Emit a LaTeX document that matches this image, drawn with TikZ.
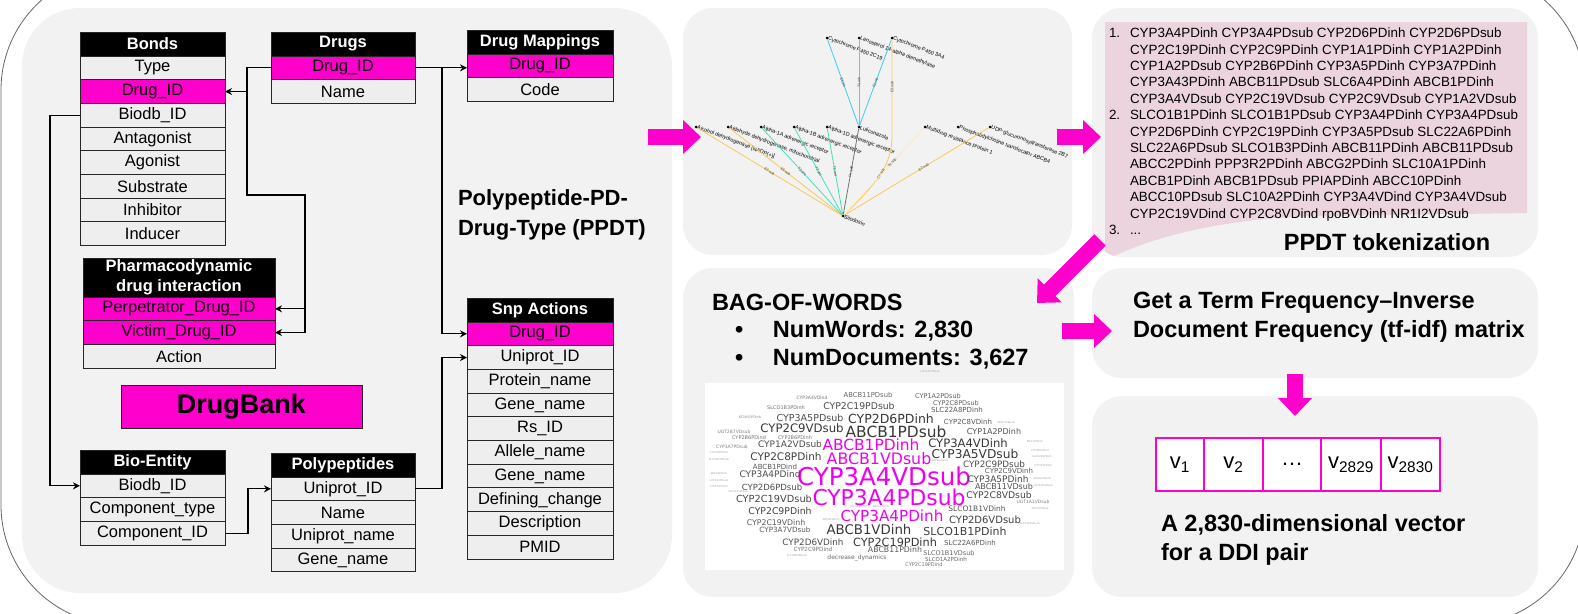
\documentclass[tikz,border=0pt]{standalone}
\usepackage{fontspec}
\setmainfont{Liberation Sans}
\newfontfamily\cloudfont{DejaVu Sans}
\usetikzlibrary{positioning,arrows.meta}

\definecolor{pinkk}{RGB}{255,0,204}
\definecolor{cloudpink}{RGB}{238,0,238}
\definecolor{panelgray}{RGB}{242,242,242}
\definecolor{rowgray}{RGB}{238,238,238}
\definecolor{tokpink}{RGB}{236,212,222}
\definecolor{edgecyan}{RGB}{60,205,235}
\definecolor{edgeteal}{RGB}{70,222,190}
\definecolor{edgeorange}{RGB}{250,200,95}

\newcommand\fldfont{\fontsize{16.5}{19}\selectfont}
\newcommand\hdrfont{\bfseries\fontsize{16.5}{20}\selectfont}
\newcommand\headfont{\bfseries\fontsize{23.5}{29}\selectfont}
\newcommand\tokfont{\fontsize{13.4}{16.4}\selectfont}
\newcommand\glabfont{\fontsize{5.4}{6}\selectfont}
\newcommand\elabfont{\fontsize{3.6}{4}\selectfont}

% rows of a table, hung under the header node #10
\newcommand\dbfields[3]{%
  \foreach \txt/\fc [count=\i] in {#3}{
    \pgfmathtruncatemacro\j{\i-1}
    \node[fld, fill=\fc, minimum width=#2, below=0pt of #1\j] (#1\i) {\txt};
  }}

\begin{document}
\begin{tikzpicture}[x=1pt, y=-1pt,
  fld/.style={draw=black!85, line width=0.9pt, fill=rowgray, inner sep=0pt, outer sep=0pt, minimum height=23.7pt, font=\fldfont},
  hdr/.style={fld, fill=black, text=white, font=\hdrfont, minimum height=24pt},
  link/.style={line width=1.1pt, -{Stealth[length=7pt,width=7pt]}},
  panel/.style={fill=panelgray, rounded corners=30pt},
  txt/.style={inner sep=0pt, outer sep=0pt},
  bigarrow/.style={pinkk, line width=16pt, -{Triangle[length=18pt,width=33pt]}},
  gdot/.style={circle, fill=black, inner sep=0pt, minimum size=3pt},
  glab/.style={txt, font=\glabfont, anchor=west, rotate=-21, xshift=1.5pt},
  elab/.style={txt, font=\elabfont, sloped, text=black!75},
  gedge/.style={line width=0.8pt},
  wc/.style={txt},
  vcell/.style={draw=pinkk, line width=2pt, fill=white, inner sep=0pt, outer sep=0pt, minimum height=53pt, font=\fontsize{22}{24}\selectfont}]

\useasboundingbox (0,0) rectangle (1578,613);
\clip (0,0) rectangle (1578,613);
\draw[black!60, line width=0.8pt, rounded corners=120pt] (1,-30) rectangle (1585,625);

\fill[panelgray, rounded corners=58pt] (22,8) rectangle (672,593);
\fill[panel] (683,8) rectangle (1072,255);
\fill[panel] (1092,8) rectangle (1538,257);
\fill[panel] (683,268) rectangle (1074,597);
\fill[panel] (1092,268) rectangle (1538,378);
\fill[panel] (1092,396) rectangle (1538,597);

% DrugBank schema
\node[hdr, minimum width=145pt, anchor=north west] (bonds0) at (80,32) {Bonds};
\dbfields{bonds}{145pt}{Type/rowgray, Drug\_ID/pinkk, Biodb\_ID/rowgray, Antagonist/rowgray, Agonist/rowgray, Substrate/rowgray, Inhibitor/rowgray, Inducer/rowgray}
\node[hdr, minimum width=144pt, anchor=north west] (drugs0) at (271,32) {Drugs};
\dbfields{drugs}{144pt}{Drug\_ID/pinkk, Name/rowgray}
\node[hdr, minimum width=146pt, anchor=north west] (maps0) at (467,30) {Drug Mappings};
\dbfields{maps}{146pt}{Drug\_ID/pinkk, Code/rowgray}
\node[hdr, minimum width=192pt, minimum height=39pt, align=center, anchor=north west] (pd0) at (83,258) {Pharmacodynamic\\drug interaction};
\dbfields{pd}{192pt}{Perpetrator\_Drug\_ID/pinkk, Victim\_Drug\_ID/pinkk, Action/rowgray}
\node[hdr, minimum width=145pt, anchor=north west] (bio0) at (80,450) {Bio-Entity};
\dbfields{bio}{145pt}{Biodb\_ID/rowgray, Component\_type/rowgray, Component\_ID/rowgray}
\node[hdr, minimum width=144pt, anchor=north west] (poly0) at (271,453) {Polypeptides};
\dbfields{poly}{144pt}{Uniprot\_ID/rowgray, Name/rowgray, Uniprot\_name/rowgray, Gene\_name/rowgray}
\node[hdr, minimum width=146pt, anchor=north west] (snp0) at (467,298) {Snp Actions};
\dbfields{snp}{146pt}{Drug\_ID/pinkk, Uniprot\_ID/rowgray, Protein\_name/rowgray, Gene\_name/rowgray, Rs\_ID/rowgray, Allele\_name/rowgray, Gene\_name/rowgray, Defining\_change/rowgray, Description/rowgray, PMID/rowgray}

\node[draw=black!85, line width=0.9pt, fill=pinkk, minimum width=241pt, minimum height=43pt, font=\bfseries\fontsize{27}{30}\selectfont] (drugbank) at (241.5,406.5) {DrugBank};
\node[txt, anchor=west, align=left, font=\bfseries\fontsize{22}{30}\selectfont] (ppdt) at (458,215) {Polypeptide-PD-\\Drug-Type (PPDT)};

\coordinate (busA) at (247,0);
\coordinate (busB) at (305,0);
\coordinate (busC) at (442,0);
\coordinate (busD) at (50,0);
\coordinate (busE) at (248,0);
\coordinate (bend) at (247,195);
\draw[link] (drugs1.west) -| (busA |- bonds2) -- (bonds2.east);
\draw[link] (busA |- bonds2) -- (bend) -| (busB |- pd1) -- (pd1.east);
\draw[link] (busB |- pd1) -- (busB |- pd2) -- (pd2.east);
\draw[link] (drugs1.east) -- (drugs1.east -| maps1.west);
\draw[link] (drugs1.east -| busC) |- (snp1.west);
\draw[link] (bonds3.west) -| (busD |- bio1) -- (bio1.west);
\draw[link] (bio3.east) -| (busE |- poly1) -- (poly1.west);
\draw[link] (poly1.east) -| (busC |- snp2) -- (snp2.west);

% drug graph
\foreach \nm/\gx/\gy/\gt in {c2c19/827/38/Cytochrome P450 2C19, lano/859/38/Lanosterol 14-alpha demethylase, c3a4/892/38/Cytochrome P450 3A4, adh/696/127/Alcohol dehydrogenase [NADP(+)], aldh/728/127/{Aldehyde dehydrogenase, mitochondrial}, a1a/761/127/Alpha-1A adrenergic receptor, a1b/794/127/Alpha-1B adrenergic receptor, a1d/827/127/Alpha-1D adrenergic receptor, luli/859/127/Luliconazole, mdr/925/127/Multidrug resistance protein 1, abcb4/958/127/Phosphatidylcholine translocator ABCB4, ugt/990/127/UDP-glucuronosyltransferase 2B7, silo/843/216/Silodosin}{
  \node[gdot] (\nm) at (\gx,\gy) {};
  \node[glab] (\nm-l) at (\nm) {\gt};
}
\draw[gedge, edgecyan] (luli) -- node[elab]{E3.inh} (c2c19);
\draw[gedge, edgeteal] (luli) -- node[elab]{T3.inh} (lano);
\draw[gedge, edgecyan] (luli) -- node[elab]{E2.inh} (c3a4);
\draw[gedge, edgeorange] (silo) -- node[elab]{E2.sub} (adh);
\draw[gedge, edgeorange] (silo) -- node[elab]{E3.sub} (aldh);
\draw[gedge, edgeteal] (silo) -- node[elab]{T2.ant} (a1a);
\draw[gedge, edgeteal] (silo) -- node[elab]{T2.ant} (a1b);
\draw[gedge, edgeteal] (silo) -- node[elab]{T2.ant} (a1d);
\draw[gedge, black!55] (silo) -- node[elab]{P=1.96} (luli);
\draw[gedge, edgeorange] (silo) .. controls (878,182) and (892,165) .. node[elab]{E3.sub} (892,135) -- node[elab]{E3.sub} (c3a4);
\draw[gedge, edgeorange!40] (silo) -- node[elab, pos=0.6]{T9.sub} (mdr);
\draw[gedge, edgeorange] (silo) -- node[elab, pos=0.55]{E2.sub} (ugt);

% tokens
\begin{scope}
\clip[rounded corners=30pt] (1092,8) rectangle (1538,257);
\fill[tokpink] (1105,22) -- (1527,22) -- (1527,213) -- (1320,216) .. controls (1220,218) and (1150,238) .. (1105,260) -- cycle;
\end{scope}
\node[txt, anchor=north west, align=left, font=\tokfont] (tokens) at (1109,28) {%
\makebox[21pt][l]{1.}CYP3A4PDinh CYP3A4PDsub CYP2D6PDinh CYP2D6PDsub\\
\hspace*{21pt}CYP2C19PDinh CYP2C9PDinh CYP1A1PDinh CYP1A2PDinh\\
\hspace*{21pt}CYP1A2PDsub CYP2B6PDinh CYP3A5PDinh CYP3A7PDinh\\
\hspace*{21pt}CYP3A43PDinh ABCB11PDsub SLC6A4PDinh ABCB1PDinh\\
\hspace*{21pt}CYP3A4VDsub CYP2C19VDsub CYP2C9VDsub CYP1A2VDsub\\
\makebox[21pt][l]{2.}SLCO1B1PDinh SLCO1B1PDsub CYP3A4PDinh CYP3A4PDsub\\
\hspace*{21pt}CYP2D6PDinh CYP2C19PDinh CYP3A5PDsub SLC22A6PDinh\\
\hspace*{21pt}SLC22A6PDsub SLCO1B3PDinh ABCB11PDinh ABCB11PDsub\\
\hspace*{21pt}ABCC2PDinh PPP3R2PDinh ABCG2PDinh SLC10A1PDinh\\
\hspace*{21pt}ABCB1PDinh ABCB1PDsub PPIAPDinh ABCC10PDinh\\
\hspace*{21pt}ABCC10PDsub SLC10A2PDinh CYP3A4VDind CYP3A4VDsub\\
\hspace*{21pt}CYP2C19VDind CYP2C8VDind rpoBVDinh NR1I2VDsub\\
\makebox[21pt][l]{3.}...};
\node[txt, font=\headfont] (toktitle) at (1387,242) {PPDT tokenization};

% bag of words
\node[txt, anchor=west, font=\headfont] (bow) at (712,302) {BAG-OF-WORDS};
\node[txt, anchor=west, font=\headfont] (bow1) at (735,331) {\makebox[38pt][l]{\textbullet}NumWords: 2,830};
\node[txt, anchor=west, font=\headfont] (bow2) at (735,359) {\makebox[38pt][l]{\textbullet}NumDocuments: 3,627};
\fill[white] (705,383) rectangle (1064,570);
\foreach \wx/\wy/\ws/\wc/\wt [count=\i] in {
 884/476/24.5/cloudpink/CYP3A4VDsub, 889/497/21.8/cloudpink/CYP3A4PDsub, 871/445/15.4/cloudpink/ABCB1PDinh,
 879/459/15.8/cloudpink/ABCB1VDsub, 892/516/15.2/cloudpink/CYP3A4PDinh,
 896/432/15.4/black!78/ABCB1PDsub, 891/419/12.5/black!78/CYP2D6PDinh, 802/428/11.7/black!78/CYP2C9VDsub,
 810/418/9.5/black!70/CYP3A5PDsub, 859/406/9.3/black!70/CYP2C19PDsub, 868/395/6.8/black!60/ABCB11PDsub,
 812/398/4.5/black!55/CYP3A4VDind, 786/408/5/black!55/SLCO1B3PDinh, 750/417/3.5/black!45/KCNH2PDinh,
 734/432/4.5/black!50/UGT2B7VDsub, 749/438/5/black!55/CYP2B6PDind, 795/438/5/black!55/CYP2B6PDinh,
 790/444/9/black!70/CYP1A2VDsub, 732/447/4.5/black!50/CYP3A7PDsub, 786/457/10.5/black!75/CYP2C8PDinh,
 775/467/7/black!65/ABCB1PDind, 770/474/9/black!70/CYP3A4PDind, 772/487/8.5/black!70/CYP2D6PDsub,
 774/499/9.8/black!72/CYP2C19VDsub, 780/511/9.3/black!75/CYP2C9PDinh, 776/523/7.8/black!65/CYP2C19VDinh,
 785/530/7.2/black!65/CYP3A7VDsub, 813/542/8.8/black!70/CYP2D6VDinh, 813/549/5.7/black!55/CYP2C9PDind,
 857/558/6/black!60/decrease\_dynamics, 869/530/13.3/black!78/ABCB1VDinh, 895/542/11.3/black!78/CYP2C19PDinh,
 895/550/7.8/black!65/ABCB11PDinh, 968/443/11.6/black!78/CYP3A4VDinh, 975/454/12.2/black!78/CYP3A5VDsub,
 994/464/8.8/black!70/CYP2C9PDsub, 1009/471/7/black!65/CYP2C9VDinh, 998/479/9/black!72/CYP3A5PDinh,
 1004/487/8/black!68/ABCB11VDsub, 999/495/9.2/black!72/CYP2C8VDsub, 977/509/7.5/black!68/SLCO1B1VDinh,
 985/520/10/black!75/CYP2D6VDsub, 965/531/11/black!75/SLCO1B1PDinh, 970/543/7/black!65/SLC22A6PDinh,
 949/553/6.5/black!60/SLCO1B1VDsub, 946/559/5.5/black!60/SLCO1A2PDinh, 924/565/5/black!55/CYP2C19PDind,
 938/396/6.5/black!62/CYP1A2PDsub, 956/403/6.5/black!62/CYP2C8PDsub, 957/410/7/black!65/SLC22A8PDinh,
 968/422/7/black!65/CYP2C8VDinh, 994/432/8/black!68/CYP1A2PDinh, 1033/502/4.5/black!50/UGT1A1VDsub,
 1006/423/2.6/black!35/ABCC2VDsub, 1035/442/2.6/black!35/ERG11PDinh, 1040/451/2.6/black!35/CYP2B6VDind,
 1042/457/2.6/black!35/SLCO2B1PDinh, 1043/466/2.6/black!35/CYP3A7PDinh, 1042/479/2.6/black!35/ABCG2VDsub,
 1043/486/2.6/black!35/UGT1A9VDsub, 1040/509/2.6/black!35/ABCC2PDsub, 1030/524/2.6/black!35/SLC22A6VDsub,
 719/474/2.6/black!35/ABCG2PDinh, 719/481/2.6/black!35/UGT1A1PDsub, 719/487/2.6/black!35/CYP1A2PDind,
 719/453/2.6/black!35/CYP2C8PDind, 719/460/2.6/black!35/SLCO1B3PDsub, 738/492/2.6/black!35/SLC22A1PDinh,
 940/461/2.6/black!35/ABCB1VDind, 860/507/2.6/black!35/SLC22A8PDinh, 881/507/2.6/black!35/ABCC1PDinh,
 831/520/2.6/black!35/ABCG2VDinh, 797/556/2.6/black!35/SLCO1B3PDsub, 930/372/2.6/black!35/UGT1A5VDsub}{
  \node[wc, text=\wc, font={\cloudfont\fontsize{\ws}{\ws}\selectfont}] (w\i) at (\wx,\wy) {\wt};
}

% tf-idf and vector
\node[txt, anchor=west, align=left, font=\headfont] (tfidf) at (1133,317) {Get a Term Frequency--Inverse\\Document Frequency (tf-idf) matrix};
\node[vcell, minimum width=48pt, anchor=north west] (v1) at (1156,438) {v\textsubscript{1}};
\node[vcell, minimum width=59pt, right=0pt of v1] (v2) {v\textsubscript{2}};
\node[vcell, minimum width=58pt, right=0pt of v2] (v3) {\dots};
\node[vcell, minimum width=60pt, right=0pt of v3] (v4) {v\textsubscript{2829}};
\node[vcell, minimum width=59pt, right=0pt of v4] (v5) {v\textsubscript{2830}};
\node[txt, anchor=west, align=left, font=\headfont] (vecnote) at (1161,540) {A 2,830-dimensional vector\\for a DDI pair};

% pink arrows
\coordinate (a1s) at (648,137);  \coordinate (a1e) at (701,137);
\coordinate (a2s) at (1057,137); \coordinate (a2e) at (1101,137);
\coordinate (a3s) at (1062,331); \coordinate (a3e) at (1112,331);
\coordinate (a4s) at (1295,374); \coordinate (a4e) at (1295,416);
\coordinate (a5s) at (1100,240); \coordinate (a5e) at (1037,303);
\draw[bigarrow] (a1s) -- (a1e);
\draw[bigarrow] (a2s) -- (a2e);
\draw[bigarrow] (a3s) -- (a3e);
\draw[bigarrow] (a4s) -- (a4e);
\draw[bigarrow] (a5s) -- (a5e);

\end{tikzpicture}
\end{document}
